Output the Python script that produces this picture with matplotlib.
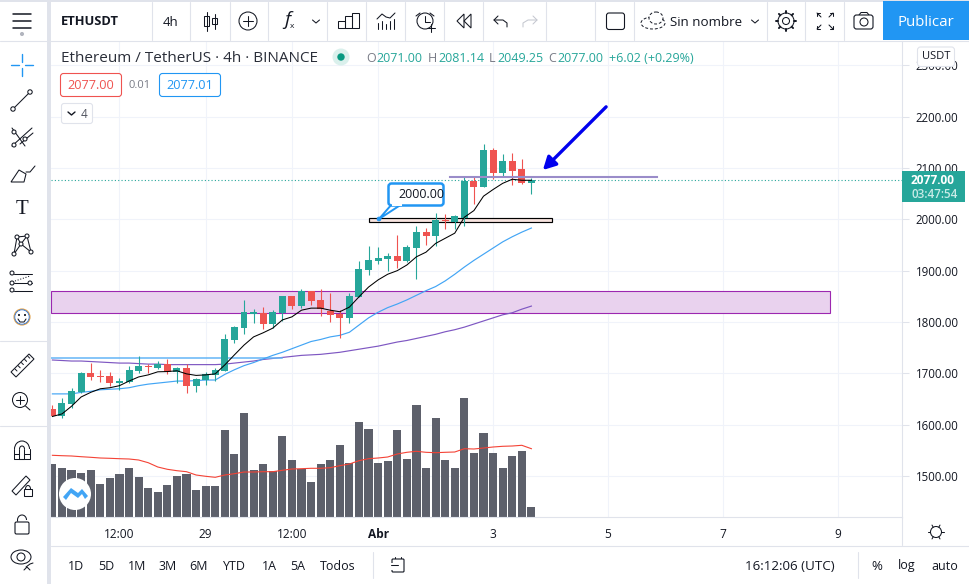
import numpy as np
import matplotlib
matplotlib.use("Agg")
import matplotlib.pyplot as plt
from matplotlib.patches import FancyBboxPatch, Rectangle, Circle, Polygon, Arc, Ellipse

# ---------- data ----------
opens  = [1631,1617,1641,1664,1701,1695,1695,1682,1683,1705,1715,1711,1718,1703,1711,1676,1687,1697,1705,1765,
          1788,1815,1818,1796,1818,1850,1831,1860,1843,1821,1815,1808,1849,1901,1918,1922,1928,1918,1944,1975,
          1967,1999,1994,2002,2074,2062,2134,2091,2113,2097,2071]
highs  = [1639,1652,1672,1703,1721,1707,1703,1691,1715,1734,1718,1724,1728,1713,1718,1691,1703,1711,1777,1792,
          1843,1825,1829,1823,1850,1850,1864,1860,1864,1856,1823,1856,1918,1948,1946,1934,1969,1950,1986,1984,
          2012,2010,2008,2083,2083,2146,2138,2128,2130,2118,2081.14]
lows   = [1616,1614,1633,1662,1687,1684,1676,1668,1682,1701,1701,1709,1699,1682,1662,1664,1678,1685,1705,1759,
          1777,1798,1786,1788,1802,1825,1827,1833,1812,1800,1769,1798,1849,1891,1913,1899,1905,1917,1884,1950,
          1948,1981,1981,1986,2029,2062,2078,2085,2066,2068,2049.25]
closes = [1617,1643,1666,1701,1693,1693,1682,1685,1707,1715,1712,1719,1703,1711,1676,1689,1699,1707,1767,1790,
          1819,1819,1796,1820,1850,1831,1860,1841,1825,1814,1808,1850,1903,1920,1924,1928,1918,1946,1975,1967,
          1998,1997,2006,2074,2062,2134,2091,2113,2095,2070,2077]
ma_black = [1616,1621,1636,1654,1663,1670,1672,1676,1685,1693,1697,1703,1703.5,1705,1699,1696,1697,1699,1716.5,1736,
            1755,1771,1779,1788,1804,1810,1823,1827,1827,1823,1820,1829,1849,1868,1882,1893,1900,1911,1927,1936,
            1953,1963,1973,2004,2017,2045,2058,2070,2078,2076,2076]
ma_blue = [1660,1660,1660,1663,1665,1668,1669,1670,1672,1676,1679,1681,1683,1685,1685,1686,1687,1687,1698,1707,
           1715,1721,1728,1735,1741,1748,1755,1762,1766,1771,1774,1780,1794,1808,1819,1828,1835,1843,1852,1861,
           1869,1880,1893,1907,1920,1932,1944,1956,1966,1975,1983]
ma_purple = [1726,1725,1724,1724,1723,1722,1721,1720,1720,1719,1718,1718,1717,1717,1717,1717,1717,1717,1718,1720,
             1722,1724,1727,1729,1731,1733,1735,1736,1737,1739,1741,1744,1747,1750,1753,1757,1761,1764,1768,1772,
             1776,1781,1785,1790,1796,1802,1808,1814,1818,1825,1831]
volumes = [53,49,47,44,47,33,39,43,49,40,29,25,32,41,43,27,31,31,87,63,104,47,53,46,81,57,48,35,53,57,
           72,54,95,88,54,56,87,58,112,49,99,57,49,119,64,84,64,49,61,66,10]
vol_ma = [61.7,61.3,61,60.3,59.7,59,58.7,58.3,58,57,54.3,50,47.7,46.3,45.3,42,40.7,39.7,42,43.3,
          45,45,45.3,45.3,46.7,48,48.3,48.7,48.7,49.3,51.3,53,56.3,58.3,59,60,63,64.7,65.7,64.7,
          64.3,64.7,65,68.3,68,69,70,70.7,71,71.7,68.3]
price_ticks = [1500,1600,1700,1800,1900,2000,2100,2200,2300]
x_tick_pos = [7,16,25,34,46,58,70,82]
x_tick_labels = ['12:00','29','12:00','Abr','3','5','7','9']
zone_low, zone_high, zone_end = 1818, 1861, 81.2
support_low, support_high, support_start, support_end = 1994, 2003, 33.05, 52.15
res_level, res_start, res_end = 2083, 41.5, 63.1
flat_blue_level, flat_blue_end = 1730, 24
last_price = 2077
ranges = ['1D','5D','1M','3M','6M','YTD','1A','5A','Todos']
range_x = [76,106,137,168,199,234,269,298,338]

# ---------- style ----------
FONT = 'Open Sans'
plt.rcParams['font.family'] = [FONT, 'DejaVu Sans']
GREEN, RED = '#26a69a', '#ef5350'
GRID, SEP, INK = '#f0f3fa', '#e0e3eb', '#131722'
W, H = 969, 584
fig = plt.figure(figsize=(W/100, H/100), dpi=100, facecolor='white')

L, R, T, B = 51, 902, 41, 517
rect = [L/W, 1-B/H, (R-L)/W, (B-T)/H]
x_lim = ((L-52.4)/9.58, (R-52.4)/9.58)
y_lim = (2000+(219.3-B)/0.5135, 2000+(219.3-T)/0.5135)
idx = np.arange(len(closes))

ax_back = fig.add_axes(rect, zorder=1)
ax_vol = fig.add_axes(rect, zorder=2, sharex=ax_back)
ax = fig.add_axes(rect, zorder=3, sharex=ax_back, sharey=ax_back)
ax_back.set_xlim(*x_lim); ax_back.set_ylim(*y_lim)
ax_vol.set_ylim(0, B-T)
for a in (ax_vol, ax):
    a.patch.set_visible(False)
for s in ax_vol.spines.values():
    s.set_visible(False)
for s in ax_back.spines.values():
    s.set_visible(False)
ax_vol.tick_params(left=False, bottom=False, labelleft=False, labelbottom=False)
ax_vol.set_yticks([])

ax.set_xticks(x_tick_pos, x_tick_labels)
ax.set_yticks(price_ticks, [f'{p:.2f}' for p in price_ticks])
ax_back.grid(True, color=GRID, lw=0.8)
ax_back.tick_params(length=0, labelleft=False, labelbottom=False)
ax.yaxis.tick_right()
ax.tick_params(axis='y', length=5, width=.75, color=SEP, labelsize=8.3, labelcolor=INK, pad=5)
ax.tick_params(axis='x', length=0, labelsize=8.6, labelcolor=INK, pad=8)
ax.get_xticklabels()[3].set_fontweight('bold')
for k in ('top', 'left'):
    ax.spines[k].set_visible(False)
for k in ('right', 'bottom'):
    ax.spines[k].set_color(SEP)
    ax.spines[k].set_linewidth(.8)

# volume
ax_vol.bar(idx, volumes, width=0.85, color='#5d606b', lw=0)
ax_vol.plot(idx, vol_ma, color='#f44336', lw=.8)

# zone + drawings under candles
ax.add_patch(Rectangle((x_lim[0], zone_low), zone_end-x_lim[0], zone_high-zone_low,
                       fc='#e9d2ee', ec='#9c27b0', lw=.8, zorder=1))
ax.plot(idx, ma_purple, color='#7e57c2', lw=.85, zorder=3)
ax.plot([x_lim[0], flat_blue_end], [flat_blue_level]*2, color='#64b5f6', lw=1.1, zorder=3)
ax.plot(idx, ma_blue, color='#42a5f5', lw=.85, zorder=3)
ax.add_patch(Rectangle((support_start, support_low), support_end-support_start, support_high-support_low,
                       fc='#f8e4e0', ec='black', lw=.85, zorder=2))

# candles
for i, (o, h, l, c) in enumerate(zip(opens, highs, lows, closes)):
    col = GREEN if c >= o else RED
    ax.plot([i, i], [l, h], color=col, lw=.8, zorder=4, solid_capstyle='butt')
    ax.bar(i, abs(c-o), bottom=min(o, c), width=0.73, color=col, lw=0, zorder=5)
ax.plot(idx, ma_black, color='black', lw=.75, zorder=6)
ax.axhline(last_price, color=GREEN, lw=0.8, ls=(0, (1, 2)), zorder=3)
ax.plot([res_start, res_end], [res_level]*2, color='#9a8cc9', lw=1.5, zorder=6)
ax.annotate('', xy=(51.2, 2096), xytext=(57.8, 2219), zorder=7,
            arrowprops=dict(arrowstyle='-|>,head_length=0.75,head_width=0.4', color='#0000ee', lw=2.4,
                            shrinkA=0, shrinkB=0))

# ---------- overlay in pixel coordinates ----------
ov = fig.add_axes([0, 0, 1, 1], zorder=10)
ov.set_xlim(0, W); ov.set_ylim(H, 0); ov.axis('off'); ov.patch.set_visible(False)

def line(xs, ys, c=INK, lw=0.75, **k):
    ov.plot(xs, ys, color=c, lw=lw, solid_capstyle=k.pop('cap', 'round'), **k)
def txt(x, y, s, size=9, c=INK, ha='left', **k):
    ov.text(x, y, s, fontsize=size, color=c, ha=ha, va='center', **k)
def box(x0, y0, x1, y1, ec=SEP, fc='white', r=3, lw=.8, z=5):
    ov.add_patch(FancyBboxPatch((x0+r, y0+r), x1-x0-2*r, y1-y0-2*r,
                 boxstyle=f'round,pad={r},rounding_size={r}', ec=ec, fc=fc, lw=lw, zorder=z))
def circ(x, y, r, ec=INK, fc='none', lw=0.75, z=5):
    ov.add_patch(Circle((x, y), r, ec=ec, fc=fc, lw=lw, zorder=z))

# frames
ov.add_patch(Rectangle((47, 0), 4, H, fc=SEP, ec='none'))
ov.add_patch(Rectangle((0, 0), W, 1.5, fc=SEP, ec='none'))
line([0, W], [40.5, 40.5], SEP, .8)
line([51, W], [545.5, 545.5], SEP, .8)
line([R+.5, R+.5], [517, 545], SEP, .8)
for x in (152, 190, 230, 268, 327, 366, 405, 444, 483, 546, 595, 634, 767, 805, 844):
    line([x, x], [2, 40], SEP, .8)
line([0, 47], [341, 341], SEP, .8)
line([0, 47], [426, 426], SEP, .8)
line([373, 373], [552, 578], SEP, .8)
line([858, 858], [552, 578], SEP, .8)

# top bar
txt(61, 21.5, 'ETHUSDT', 9.3, fontweight='bold')
txt(171, 22, '4h', 9.5, ha='center')
line([207, 207], [12, 31]); ov.add_patch(Rectangle((204.5, 16), 5, 10, ec=INK, fc='none', lw=.75))
line([215, 215], [14, 29]); ov.add_patch(Rectangle((212.5, 18), 5, 6, ec=INK, fc='none', lw=.75))
circ(248, 21, 9); line([243, 253], [21, 21]); line([248, 248], [16, 26])
txt(287, 20, 'f', 14, ha='center', fontstyle='italic'); txt(292, 27, 'x', 6, ha='center')
for cx in (316, 755):
    line([cx-3.5, cx, cx+3.5], [20, 23, 20])
for x0, h in ((338, 7), (345, 12), (352, 15)):
    ov.add_patch(Rectangle((x0, 28-h), 7, h, ec=INK, fc='none', lw=.75))
for x0, h in ((378, 6), (382, 8), (386, 5), (390, 8), (394, 10)):
    line([x0, x0], [29, 29-h])
line([377, 382, 386, 390, 395], [19, 14, 17, 18, 13])
circ(425, 21, 8); line([425, 425, 430], [16, 22, 22]); line([427, 435], [28, 28]); line([431, 431], [24, 32])
line([416, 420], [16, 13]); line([430, 434], [13, 16])
ov.add_patch(Polygon([[464, 14], [457, 21], [464, 28]], closed=True, fc='none', ec=INK, lw=.75))
ov.add_patch(Polygon([[471, 14], [464, 21], [471, 28]], closed=True, fc='none', ec=INK, lw=.75))
line([498, 494, 498], [16, 20, 24])
line([494, 503, 507, 507], [20, 20, 23, 27])
line([533, 537, 533], [16, 20, 24], '#c5c8d0'); line([537, 528, 523, 523], [20, 20, 23, 27], '#c5c8d0')
box(606.5, 13, 624.5, 29.5, ec=INK, r=2.5)
ov.add_patch(Ellipse((653, 23), 24, 12, ec=INK, fc='none', lw=.7, ls=(0, (3, 2))))
ov.add_patch(Ellipse((656, 18), 14, 12, ec=INK, fc='white', lw=.7, ls=(0, (3, 2))))
txt(670, 22, 'Sin nombre', 9.6)
circ(786, 21, 3.5); circ(786, 21, 8)
for a in np.arange(0, 360, 45):
    line([786+8*np.cos(np.radians(a)), 786+10*np.cos(np.radians(a))],
         [21+8*np.sin(np.radians(a)), 21+10*np.sin(np.radians(a))], lw=1.4)
for sx, sy in ((-1, -1), (1, -1), (-1, 1), (1, 1)):
    cx, cy = 825+sx*5, 21+sy*5
    line([cx+sx*3, cx+sx*3, cx+sx*0], [cy, cy+sy*3, cy+sy*3])
    line([cx+sx*3, cx-sx*1], [cy+sy*3, cy-sy*1])
box(854, 15, 873, 29, ec=INK, r=2.5); line([859, 861, 867, 869], [15, 12.5, 12.5, 15]); circ(864, 22, 4)
ov.add_patch(Rectangle((883, 1), 86, 39, fc='#2196f3', ec='none', zorder=4))
txt(926, 22.5, 'Publicar', 10.8, 'white', ha='center', zorder=6)

# left bar
for y in (14, 21, 28):
    line([13, 31], [y, y], lw=1.1)
circ(22, 34, 1.5, ec='#b2b5be', fc='#b2b5be')
for xs, ys in (([11, 19], [65, 65]), ([25, 33], [65, 65]), ([22, 22], [54, 62]), ([22, 22], [68, 76])):
    line(xs, ys, '#2196f3', 1)
line([14, 29], [108, 93]); circ(13, 109, 2.2, fc='white'); circ(30, 92, 2.2, fc='white')
line([12, 32], [146, 128]); line([12, 25], [128, 146]); line([20, 33], [144, 133]); circ(14, 145, 2, fc='white'); circ(25, 139, 2, fc='white'); circ(14, 132, 2, fc='white')
ov.add_patch(Polygon([[11, 182], [19, 170], [26, 174], [24, 182]], closed=True, fc='none', ec=INK, lw=.75))
line([26, 30, 35], [172, 172, 166])
txt(22, 209, 'T', 15, ha='center', fontfamily='Liberation Serif', fontweight='light')
line([14, 17, 27, 31, 21, 14], [254, 237, 236, 252, 244, 254]); line([17, 21, 27], [237, 244, 236])
for p in ((14, 254), (17, 237), (27, 236), (31, 252), (21, 244)):
    circ(*p, 2, fc='white')
line([14, 32], [274, 274]); line([14, 32], [291, 291]); line([14, 32], [283, 283]); line([15, 30], [281, 276], ls=':')
for p in ((12, 273), (12, 283), (30, 283), (12, 290)):
    circ(*p, 2, fc='white')
circ(22, 317, 8, ec='#e09a3a'); circ(22, 317, 7.2, ec='#2a6fd0', lw=.6)
line([18, 20, 24, 26], [319, 322, 322, 319]); circ(19, 315, .5, fc=INK); circ(25, 315, .5, fc=INK)
ov.add_patch(Polygon([[11, 372], [29, 354], [34, 359], [16, 377]], closed=True, fc='none', ec=INK, lw=.75))
for t in range(5):
    line([15+t*3.2, 17+t*3.2], [369-t*3.2, 371-t*3.2], lw=.7)
circ(20, 400, 7.5); line([16, 24], [400, 400]); line([20, 20], [396, 404]); line([25.5, 30], [406, 410])
ov.add_patch(Arc((22, 449), 15, 16, theta1=180, theta2=360, ec=INK, lw=.75))
ov.add_patch(Arc((22, 449), 5, 6, theta1=180, theta2=360, ec=INK, lw=.75))
line([14.5, 14.5, 30, 30], [449, 459, 459, 449]); line([19.5, 19.5, 24.5, 24.5], [449, 459, 459, 449]); line([14.5, 19.5], [454, 454]); line([24.5, 30], [454, 454])
ov.add_patch(Polygon([[12, 491], [26, 476], [30, 480], [16, 495]], closed=True, fc='none', ec=INK, lw=.75))
ov.add_patch(Rectangle((24, 489), 8, 7, ec=INK, fc='white', lw=.75)); ov.add_patch(Arc((28, 489), 5, 7, theta1=180, theta2=360, ec=INK, lw=.75))
box(15, 522, 29, 534, ec=INK, r=1.5); ov.add_patch(Arc((22, 520), 9, 10, theta1=160, theta2=360, ec=INK, lw=.75)); line([22, 22], [527, 529])
ov.add_patch(Ellipse((21, 557), 20, 14, ec=INK, fc='none', lw=.75)); circ(21, 557, 4)
line([24, 27, 30], [570, 567, 570]); line([26, 30, 33], [567, 564, 563])

# legend row
txt(61, 59, 'Ethereum / TetherUS · 4h · BINANCE', 11, '#2a2e39')
circ(341, 57, 8.5, ec='none', fc='#daf0ec'); circ(341, 57, 3.7, ec='none', fc='#089981')
for x, s, c in ((366.5, 'O', '#787b86'), (376, '2071.00', GREEN), (428, 'H', '#787b86'), (438, '2081.14', GREEN),
                (489, 'L', '#787b86'), (497, '2049.25', GREEN), (548, 'C', '#787b86'), (557, '2077.00', GREEN),
                (609, '+6.02 (+0.29%)', GREEN)):
    txt(x, 58.5, s, 9, c)
box(60.5, 73.5, 121.5, 96.5, ec=RED, r=3); txt(91, 85.5, '2077.00', 9.2, RED, ha='center', zorder=6)
txt(140, 85.5, '0.01', 8, '#787b86', ha='center')
box(159.5, 73.5, 220.5, 96.5, ec='#2196f3', r=3); txt(190, 85.5, '2077.01', 9.2, '#2196f3', ha='center', zorder=6)
box(61.5, 103.5, 92.5, 123.5, ec=SEP, r=2.5)
line([68, 71.5, 75], [112, 115, 112], lw=1, zorder=6); txt(84, 114, '4', 8.5, '#50535e', ha='center', zorder=6)

# right scale labels
box(917.5, 47, 954.5, 66.5, ec=SEP, r=3, z=6); txt(936, 56.5, 'USDT', 8, ha='center', zorder=7)
ov.add_patch(Rectangle((902, 171), 63, 31, fc=GREEN, ec='none', zorder=6))
txt(933, 180, '2077.00', 8.6, 'white', ha='center', fontweight='bold', zorder=7)
txt(935, 194, '03:47:54', 8.4, '#c9ebe7', ha='center', fontweight='semibold', zorder=7)
circ(936, 532, 5.5)
for a in np.arange(0, 360, 60):
    line([936+5.5*np.cos(np.radians(a)), 936+8*np.cos(np.radians(a))],
         [532+5.5*np.sin(np.radians(a)), 532+8*np.sin(np.radians(a))])

# callout
ov.add_patch(Polygon([[402, 204], [379, 219], [392, 204]], closed=True, fc='white', ec='#2196f3', lw=1.4, zorder=7, joinstyle='round'))
box(388.5, 183.5, 443.5, 205.5, ec='#2196f3', r=3, lw=1.8, z=8)
ov.add_patch(Rectangle((392, 203), 10, 3, fc='white', ec='none', zorder=9))
circ(379, 219, 1.8, ec='#2196f3', fc='#2196f3', z=9)
txt(421, 194.5, '2000.00', 9, ha='center', zorder=10)

# logo
circ(75, 494, 16, ec='none', fc='white', z=7)
ov.add_patch(Polygon([[63, 497], [71, 488], [78, 493], [82, 489], [88, 496], [85, 499], [82, 494], [78, 498], [71, 493], [66, 500]],
                     closed=True, fc='#42a5f5', ec='none', zorder=8))

# bottom bar
for x, s in zip(range_x, ranges):
    txt(x, 566, s, 9, '#131722', ha='center')
box(392, 559, 404, 572, ec=INK, r=1); line([395, 395], [557, 561]); line([401, 401], [557, 561])
ov.add_patch(Rectangle((390, 563), 5, 7, fc='white', ec='none', zorder=6)); line([391, 398], [565, 565], zorder=7)
txt(790, 566, '16:12:06 (UTC)', 9.6, ha='center')
txt(877, 566, '%', 9.5, ha='center'); txt(907, 566, 'log', 9, ha='center'); txt(945, 566, 'auto', 9, ha='center')

fig.savefig('out.png', dpi=100)
